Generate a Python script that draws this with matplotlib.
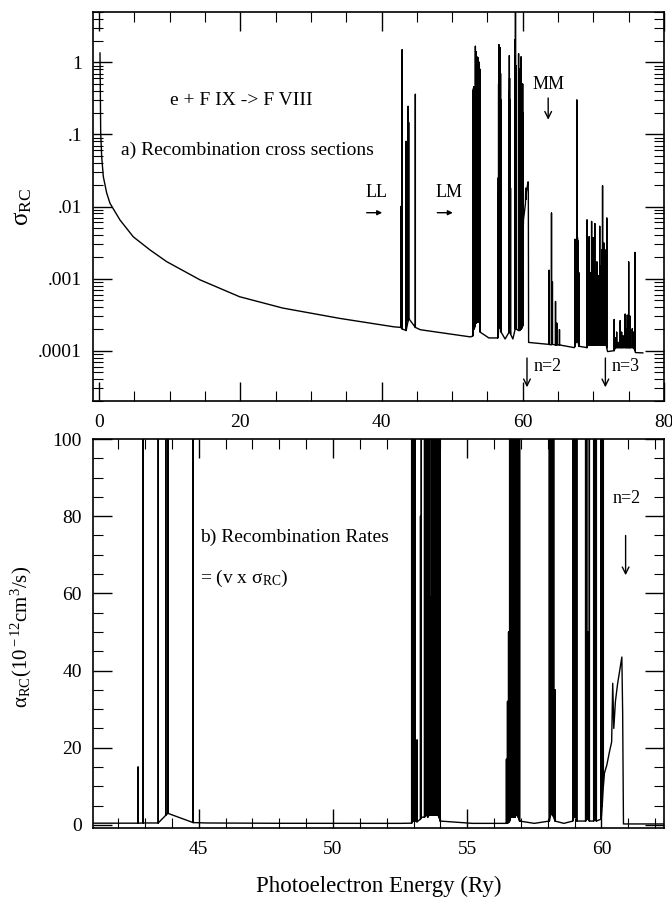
import numpy as np
import matplotlib
matplotlib.use("Agg")
import matplotlib.pyplot as plt
from matplotlib.ticker import MultipleLocator, LogLocator, NullFormatter

plt.rcParams['font.family'] = ['Liberation Serif', 'DejaVu Serif']
plt.rcParams['mathtext.fontset'] = 'custom'
plt.rcParams['mathtext.rm'] = 'Liberation Serif'
plt.rcParams['mathtext.it'] = 'Liberation Serif:italic'

# ---- panel a: smooth continuum (E in Ry, sigma) ----
cont_E = [0.14, 0.24, 0.38, 0.61, 1.08, 1.55, 2.97, 4.85, 7.21, 9.57, 14.3, 19.9,
          26.0, 34.1, 41.75, 45.5, 52.6, 55.2, 57.5, 58.6]
cont_sigma = [1.35, 0.105, 0.049, 0.026, 0.0155, 0.0111, 0.0065, 0.0038, 0.0025,
              0.00172, 0.00096, 0.00056, 0.00039, 0.00028, 0.000214, 0.000195,
              0.000155, 0.00015, 0.000145, 0.000145]
# above the n=2 threshold
cont2_E = [60.83, 64.0, 67.3, 71.95, 72.02, 75.95, 77.0]
cont2_sigma = [0.00013, 0.00012, 0.00011, 0.000102, 0.000097, 0.000094, 0.000093]

# rising edge just below the n=2 threshold (both panels)
ramp_E = [60.11, 60.20, 60.30, 60.38, 60.42, 60.46, 60.52, 60.60, 60.68, 60.76, 60.79]
ramp_sigma = [0.0067, 0.0078, 0.0095, 0.011, 0.018, 0.0125, 0.016, 0.018, 0.020, 0.022, 0.015]
ramp_alpha = [13.4, 15.5, 19.0, 21.5, 36.7, 25.0, 32.0, 36.5, 40.0, 43.5, 29.0]

# ---- resonances below n=2, seen in both panels ----
res_E = [42.74, 42.93, 43.49, 43.77, 43.85, 44.79,
         52.93, 52.97, 53.01, 53.05, 53.13, 53.26, 53.29, 53.41, 53.45, 53.49, 53.53,
         53.57, 53.61, 53.66, 53.70, 53.77, 53.81, 53.85, 53.91, 53.95, 53.99,
         56.46, 56.50, 56.54, 56.58, 56.62, 56.66, 56.70, 56.74, 56.78, 56.82, 56.86,
         56.90, 56.95,
         58.06, 58.10, 58.14, 58.18, 58.22, 58.27,
         58.93, 58.97, 59.01, 59.05, 59.08,
         59.41, 59.45, 59.50, 59.55,
         59.71, 59.76, 59.81,
         59.99, 60.03, 60.07]
res_sigma = [0.010, 1.5, 0.08, 0.245, 0.146, 0.36,
             0.37, 0.40, 0.43, 0.46, 0.011, 0.04, 1.67, 1.4, 0.9, 1.2, 0.8,
             1.0, 0.03, 0.7, 1.15, 0.9, 0.6, 1.0, 0.5, 0.8, 0.3,
             0.0085, 0.016, 0.025, 0.5, 1.76, 0.4, 0.9, 0.3, 1.6, 0.5, 0.7,
             0.3, 0.15,
             0.4, 1.24, 0.6, 0.3, 0.1, 0.018,
             2.06, 8.0, 0.5, 0.9, 0.3,
             1.32, 0.6, 0.025, 0.8,
             0.4, 1.19, 0.5,
             0.5, 0.2, 0.1]
res_sigma_floor = [2.1e-4, 2.0e-4, 1.9e-4, 2.6e-4, 2.8e-4, 2.1e-4,
                   1.6e-4, 2.2e-4, 2.2e-4, 2.2e-4, 2.0e-4, 2.2e-4, 2.4e-4, 2.4e-4, 2.5e-4, 2.5e-4, 2.5e-4,
                   2.5e-4, 2.5e-4, 2.5e-4, 2.5e-4, 2.5e-4, 2.5e-4, 2.5e-4, 2.4e-4, 2.2e-4, 1.8e-4,
                   1.5e-4, 1.6e-4, 1.7e-4, 2.0e-4, 2.5e-4, 2.5e-4, 2.5e-4, 2.5e-4, 2.5e-4, 2.5e-4, 2.4e-4,
                   2.2e-4, 1.8e-4,
                   1.8e-4, 2.3e-4, 2.3e-4, 2.2e-4, 2.0e-4, 1.7e-4,
                   2.0e-4, 2.6e-4, 2.6e-4, 2.4e-4, 2.0e-4,
                   1.9e-4, 2.2e-4, 2.2e-4, 1.9e-4,
                   2.0e-4, 2.4e-4, 2.0e-4,
                   2.2e-4, 0.002, 0.005]
res_alpha = [15, 3000, 160, 490, 290, 700,
             750, 800, 860, 920, 22, 80, 3300, 2800, 1800, 2400, 1600,
             2000, 59, 1400, 2300, 1800, 1200, 2000, 1000, 1600, 600,
             17, 32, 50, 1000, 3500, 800, 1800, 600, 3200, 1000, 1400,
             600, 300,
             800, 2500, 1200, 600, 200, 35,
             4000, 16000, 1000, 1800, 600,
             2600, 1200, 50, 1600,
             800, 2400, 1000,
             1000, 400, 200]
res_alpha_floor = [0.45, 0.5, 0.5, 2.5, 3.0, 0.6,
                   0.45, 1.0, 1.0, 1.0, 0.8, 1.5, 2.0, 2.0, 2.5, 2.5, 2.0,
                   2.5, 2.5, 2.5, 2.5, 2.5, 2.5, 2.5, 2.5, 2.0, 1.0,
                   0.4, 0.5, 0.6, 1.0, 2.0, 2.0, 2.0, 2.0, 2.0, 2.5, 2.5,
                   2.0, 1.0,
                   1.0, 2.5, 3.0, 2.5, 2.0, 1.0,
                   1.0, 2.0, 2.0, 2.0, 1.0,
                   1.0, 1.5, 1.5, 1.0,
                   1.0, 1.5, 1.0,
                   1.5, 5.0, 10.0]

# ---- resonances above n=2 (panel a only) ----
hi_E = [63.74, 64.07, 64.20, 64.64, 64.82, 65.20,
        67.40, 67.50, 67.58, 67.66, 67.75, 67.85, 67.95,
        69.10, 69.20, 69.40, 69.55, 69.75, 69.88, 70.00, 70.20, 70.35, 70.50,
        70.65, 70.90, 71.05, 71.20, 71.30, 71.42, 71.50, 71.65, 71.80, 71.90,
        72.95, 73.10, 73.30, 73.50, 73.80, 74.00, 74.20, 74.50, 74.65, 74.80,
        75.00, 75.10, 75.20, 75.50, 75.70, 75.90]
hi_sigma = [0.0013, 0.0081, 0.0009, 0.00048, 0.00024, 0.000195,
            0.0035, 0.0015, 0.0025, 0.30, 0.0037, 0.0033, 0.0012,
            0.0065, 0.0015, 0.0038, 0.0012, 0.0062, 0.0018, 0.0037, 0.0058, 0.0012, 0.0017,
            0.0011, 0.0053, 0.0015, 0.0025, 0.0194, 0.002, 0.0031, 0.0018, 0.0025, 0.0069,
            0.00027, 0.00015, 0.00018, 0.00013, 0.00026, 0.00018, 0.00016, 0.00032, 0.0002, 0.00031,
            0.0017, 0.00025, 0.0003, 0.0002, 0.00018, 0.0023]
hi_floor = [1.22e-4, 1.22e-4, 1.22e-4, 1.2e-4, 1.2e-4, 1.2e-4,
            1.15e-4, 1.3e-4, 1.4e-4, 1.4e-4, 1.4e-4, 1.3e-4, 1.15e-4,
            1.1e-4, 1.2e-4, 1.2e-4, 1.2e-4, 1.2e-4, 1.2e-4, 1.2e-4, 1.2e-4, 1.2e-4, 1.2e-4,
            1.2e-4, 1.2e-4, 1.2e-4, 1.2e-4, 1.2e-4, 1.2e-4, 1.2e-4, 1.2e-4, 1.2e-4, 1.1e-4,
            1.0e-4, 1.1e-4, 1.1e-4, 1.1e-4, 1.1e-4, 1.1e-4, 1.1e-4, 1.1e-4, 1.1e-4, 1.1e-4,
            1.1e-4, 1.1e-4, 1.1e-4, 1.1e-4, 1.1e-4, 1.0e-4]

# ---- panel b: smooth continuum of the rate ----
rate_E = [41.0, 42.3, 45.3, 48.0, 52.5, 55.2, 57.5, 58.6]
rate_alpha = [0.45, 0.45, 0.5, 0.42, 0.4, 0.4, 0.4, 0.4]
rate2_E = [60.82, 62.6]
rate2_alpha = [0.25, 0.25]


def spectrum(bg_x, bg_y, pk_x, pk_y, pk_floor):
    # merge continuum samples and resonance spikes into one polyline
    x = list(bg_x)
    y = list(bg_y)
    k = [0] * len(x)
    for e, p, f in zip(pk_x, pk_y, pk_floor):
        x += [e, e, e]
        y += [f, p, f]
        k += [1, 2, 3]
    order = np.lexsort((k, x))
    return np.asarray(x)[order], np.asarray(y)[order]


xa, ya = spectrum(cont_E + ramp_E + cont2_E, cont_sigma + ramp_sigma + cont2_sigma,
                  res_E + hi_E, res_sigma + hi_sigma, res_sigma_floor + hi_floor)
xb, yb = spectrum(rate_E + ramp_E + rate2_E, rate_alpha + ramp_alpha + rate2_alpha,
                  res_E, res_alpha, res_alpha_floor)

fig = plt.figure(figsize=(6.72, 9.01), dpi=100)
ax1 = fig.add_axes([93 / 672, 1 - 401 / 901, 571 / 672, 389 / 901])
ax2 = fig.add_axes([93 / 672, 1 - 828 / 901, 571 / 672, 389 / 901])

ax1.plot(xa, ya, color='k', lw=1.0)
ax1.set_yscale('log')
ax1.set_xlim(-0.85, 80)
ax1.set_ylim(2e-5, 5)
ax1.xaxis.set_major_locator(MultipleLocator(20))
ax1.xaxis.set_minor_locator(MultipleLocator(5))
ax1.set_yticks([1e-4, 1e-3, 1e-2, 1e-1, 1])
ax1.set_yticklabels(['.0001', '.001', '.01', '.1', '1'])
ax1.yaxis.set_minor_locator(LogLocator(base=10, subs=range(2, 10), numticks=20))
ax1.yaxis.set_minor_formatter(NullFormatter())
ax1.set_ylabel('σ$_{\\rm RC}$', fontsize=18)
ax1.yaxis.set_label_coords(-0.103, 0.5)

ax2.plot(xb, yb, color='k', lw=1.0)
ax2.set_xlim(41.06, 62.33)
ax2.set_ylim(-0.8, 100)
ax2.xaxis.set_major_locator(MultipleLocator(5))
ax2.xaxis.set_minor_locator(MultipleLocator(1))
ax2.yaxis.set_major_locator(MultipleLocator(20))
ax2.yaxis.set_minor_locator(MultipleLocator(5))
ax2.set_ylabel('α$_{\\rm RC}$(10$^{\\rm -12}$cm$^{\\rm 3}$/s)', fontsize=15)
ax2.yaxis.set_label_coords(-0.103, 0.49)
ax2.set_xlabel('Photoelectron Energy (Ry)', fontsize=16.5)
ax2.xaxis.set_label_coords(0.5, -0.122)

for ax in (ax1, ax2):
    ax.tick_params(which='both', direction='in', top=True, right=True, labelsize=14)
    ax.tick_params(which='major', length=14, width=1.0)
    ax.tick_params(which='minor', length=7, width=0.8)
    ax.tick_params(axis='y', pad=8)
    ax.tick_params(axis='x', pad=9)
    for s in ax.spines.values():
        s.set_linewidth(1.2)

down = dict(arrowstyle='->', color='k', lw=1.0, shrinkA=0, shrinkB=0, mutation_scale=12)
right = dict(arrowstyle='-|>', color='k', lw=1.0, shrinkA=0, shrinkB=0, mutation_scale=7)

ax1.text(20.2, 0.30, 'e + F IX -> F VIII', ha='center', va='center', fontsize=14)
ax1.text(3.1, 0.061, 'a) Recombination cross sections', ha='left', va='center', fontsize=14)
ax1.text(39.3, 0.0154, 'LL', ha='center', va='center', fontsize=13)
ax1.annotate('', xy=(40.1, 0.0082), xytext=(37.9, 0.0082), arrowprops=right)
ax1.text(49.5, 0.0154, 'LM', ha='center', va='center', fontsize=13)
ax1.annotate('', xy=(50.1, 0.0082), xytext=(47.9, 0.0082), arrowprops=right)
ax1.text(63.7, 0.49, 'MM', ha='center', va='center', fontsize=13)
ax1.annotate('', xy=(63.6, 0.16), xytext=(63.6, 0.32), arrowprops=down)
ax1.annotate('', xy=(60.6, 3.1e-5), xytext=(60.6, 7.9e-5), arrowprops=down)
ax1.text(61.5, 6.1e-5, 'n=2', ha='left', va='center', fontsize=13)
ax1.annotate('', xy=(71.7, 3.1e-5), xytext=(71.7, 7.9e-5), arrowprops=down)
ax1.text(72.6, 6.1e-5, 'n=3', ha='left', va='center', fontsize=13)

ax2.text(45.04, 74.5, 'b) Recombination Rates', ha='left', va='center', fontsize=14)
ax2.text(45.04, 63.9, '= (v x σ$_{\\rm RC}$)', ha='left', va='center', fontsize=14)
ax2.text(60.93, 84.6, 'n=2', ha='center', va='center', fontsize=13)
ax2.annotate('', xy=(60.9, 64.7), xytext=(60.9, 75), arrowprops=down)

fig.savefig('out.png', dpi=100)
